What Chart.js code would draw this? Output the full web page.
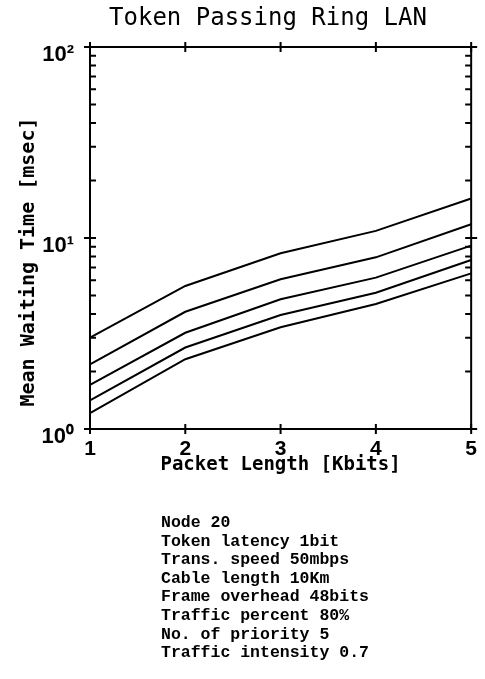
<!DOCTYPE html>
<html>
<head>
<meta charset="utf-8">
<title>Token Passing Ring LAN</title>
<script src="https://cdn.jsdelivr.net/npm/chart.js@4/dist/chart.umd.min.js"></script>
<style>
    html, body { margin: 0; padding: 0; background: #fff; }
    #wrap { position: relative; width: 485px; height: 679px; overflow: hidden; }
    #title {
        position: absolute; left: 68px; top: 3px; width: 400px; height: 30px;
        line-height: 30px; text-align: center;
        font: 24px "DejaVu Sans Mono", monospace; color: #000; white-space: nowrap;
    }
    #yTitle {
        position: absolute; left: -123px; top: 250px; width: 300px; height: 24px;
        line-height: 24px; text-align: center; transform: rotate(-90deg);
        font: bold 20px "DejaVu Sans Mono", monospace; color: #000; white-space: nowrap;
    }
    #notes {
        position: absolute; left: 161px; top: 514px; margin: 0;
        font: bold 16.5px/18.6px "Liberation Mono", "DejaVu Sans Mono", monospace; color: #000;
    }
</style>
</head>
<body>
<div id="wrap">
    <canvas id="ringChart" width="485" height="679"></canvas>
    <div id="title">Token Passing Ring LAN</div>
    <div id="yTitle">Mean Waiting Time [msec]</div>
    <pre id="notes">Node 20
Token latency 1bit
Trans. speed 50mbps
Cable length 10Km
Frame overhead 48bits
Traffic percent 80%
No. of priority 5
Traffic intensity 0.7</pre>
</div>
<script>
// packet length (Kbits) and mean waiting time (msec), curves from top to bottom
var packetLength = [1, 2, 3, 4, 5];
var curve1 = [3.01, 5.61, 8.32, 10.9, 16.1];
var curve2 = [2.18, 4.11, 6.08, 7.92, 11.8];
var curve3 = [1.70, 3.19, 4.78, 6.20, 9.12];
var curve4 = [1.41, 2.67, 3.95, 5.17, 7.67];
var curve5 = [1.21, 2.32, 3.41, 4.51, 6.53];
var yTickLabels = ['10\u2070', '10\u00b9', '10\u00b2'];

(function (window, document) {
    'use strict';

    var toPoints = function (values) {
        return values.map(function (v, i) { return { x: packetLength[i], y: v }; });
    };

    // box round the plot with plotter style ticks
    var frameTicks = {
        id: 'frameTicks',
        afterDraw: function (chart) {
            var ctx = chart.ctx;
            var a = chart.chartArea;
            var xs = chart.scales.x;
            var ys = chart.scales.y;

            ctx.save();
            ctx.strokeStyle = '#000';
            ctx.lineWidth = 2;
            ctx.strokeRect(a.left, a.top, a.right - a.left, a.bottom - a.top);

            ctx.beginPath();
            for (var e = 0; e < 2; e++) {
                for (var m = 1; m < 10; m++) {
                    var py = ys.getPixelForValue(m * Math.pow(10, e));
                    if (m === 1) {
                        ctx.moveTo(a.left - 6, py); ctx.lineTo(a.left + 6, py);
                        ctx.moveTo(a.right - 6, py); ctx.lineTo(a.right + 6, py);
                    } else {
                        ctx.moveTo(a.left, py); ctx.lineTo(a.left + 6, py);
                        ctx.moveTo(a.right - 6, py); ctx.lineTo(a.right, py);
                    }
                }
            }
            var top = ys.getPixelForValue(100);
            ctx.moveTo(a.left - 6, top); ctx.lineTo(a.left + 6, top);
            ctx.moveTo(a.right - 6, top); ctx.lineTo(a.right + 6, top);

            packetLength.forEach(function (v) {
                var px = xs.getPixelForValue(v);
                ctx.moveTo(px, a.top - 5); ctx.lineTo(px, a.top + 5);
                ctx.moveTo(px, a.bottom - 5); ctx.lineTo(px, a.bottom + 5);
            });
            ctx.stroke();
            ctx.restore();
        }
    };

    var ds = function (values) {
        return {
            data: toPoints(values),
            borderColor: '#000',
            borderWidth: 2,
            pointRadius: 0,
            fill: false,
            tension: 0
        };
    };

    var ctx = document.getElementById('ringChart').getContext('2d');

    new Chart(ctx, {
        type: 'line',
        data: {
            datasets: [ds(curve1), ds(curve2), ds(curve3), ds(curve4), ds(curve5)]
        },
        plugins: [frameTicks],
        options: {
            responsive: false,
            animation: false,
            layout: { padding: { left: 0, right: 12, top: 47, bottom: 0 } },
            plugins: {
                legend: { display: false },
                tooltip: { enabled: false },
                title: { display: false }
            },
            scales: {
                x: {
                    type: 'linear',
                    min: 1,
                    max: 5,
                    grid: { display: false, drawTicks: false },
                    border: { display: false },
                    ticks: {
                        stepSize: 1,
                        padding: 8,
                        color: '#000',
                        font: { family: 'Liberation Sans', size: 21, weight: 'bold' }
                    },
                    title: {
                        display: true,
                        text: 'Packet Length [Kbits]',
                        color: '#000',
                        font: { family: 'DejaVu Sans Mono', size: 19, weight: 'bold', lineHeight: 1.2 },
                        padding: { top: 0, bottom: 203 }
                    },
                    afterFit: function (scale) { scale.height = 250; }
                },
                y: {
                    type: 'logarithmic',
                    min: 1,
                    max: 100,
                    grid: { display: false, drawTicks: false },
                    border: { display: false },
                    ticks: {
                        autoSkip: false,
                        padding: 16,
                        labelOffset: 8,
                        color: '#000',
                        font: { family: 'Liberation Sans', size: 22, weight: 'bold' },
                        callback: function (value) {
                            var p = Math.log10(value);
                            var r = Math.round(p);
                            return Math.abs(p - r) < 1e-9 ? yTickLabels[r] : '';
                        }
                    },
                    afterFit: function (scale) { scale.width = 90; }
                }
            }
        }
    });
})(window, document);
</script>
</body>
</html>
